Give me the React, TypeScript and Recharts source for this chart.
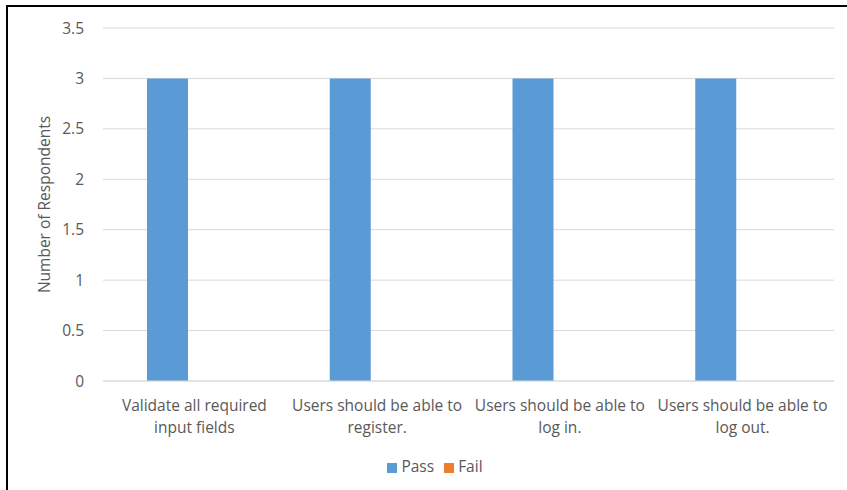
import { Bar, BarChart, CartesianGrid, Legend, XAxis, YAxis } from 'recharts';

const categories = [
  'Validate all required\ninput fields',
  'Users should be able to\nregister.',
  'Users should be able to\nlog in.',
  'Users should be able to\nlog out.',
];
const pass = [3, 3, 3, 3];
const fail = [0, 0, 0, 0];
const yTicks = [0, 0.5, 1, 1.5, 2, 2.5, 3, 3.5];
const seriesNames = ['Pass', 'Fail'];

const COLORS = { pass: '#5b9bd5', fail: '#ed7d31' };
const FONT = '"Open Sans", "Noto Sans", sans-serif';
const TEXT = '#595959';
const FS = 15.5;

const data = categories.map((name, i) => ({ name, pass: pass[i], fail: fail[i] }));

function WrappedTick(props: any) {
  const { x, y, payload } = props;
  const lines = String(payload.value).split('\n');
  return (
    <text x={x} y={y} textAnchor="middle" fill={TEXT} fontSize={FS} fontFamily={FONT}>
      {lines.map((l, i) => (
        <tspan key={i} x={x} dy={22}>{l}</tspan>
      ))}
    </text>
  );
}

export default function App() {
  return (
    <div style={{ position: 'absolute', left: 0, top: 0, width: 847, height: 490, background: '#fff' }}>
      <div style={{ position: 'absolute', left: 6, top: 5, right: 0, bottom: 0, borderLeft: '2px solid #000', borderTop: '2px solid #000' }} />
      <div style={{ position: 'absolute', left: 0, top: 0 }}>
        <BarChart width={847} height={490} data={data} margin={{ top: 28, right: 13, bottom: 0, left: 0 }} barSize={41} barGap={12}>
          <CartesianGrid stroke="#d9d9d9" vertical={false} />
          <XAxis
            dataKey="name"
            tick={<WrappedTick />}
            tickLine={false}
            axisLine={{ stroke: '#d9d9d9' }}
            height={109}
            interval={0}
          />
          <YAxis
            domain={[0, 3.5]}
            ticks={yTicks}
            tickLine={false}
            axisLine={false}
            width={103}
            tickMargin={13}
            tick={{ fill: TEXT, fontSize: FS, fontFamily: FONT }}
            label={{ value: 'Number of Respondents', angle: -90, position: 'insideLeft', offset: 44, style: { textAnchor: 'middle', fill: TEXT, fontSize: FS, fontFamily: FONT } }}
          />
          <Legend
            verticalAlign="middle"
            align="center"
            iconType="square"
            iconSize={10}
            itemSorter={(item: any) => seriesNames.indexOf(item.value)}
            wrapperStyle={{ top: 455, left: 23, fontFamily: FONT, fontSize: FS }}
            formatter={(v: string) => <span style={{ color: TEXT }}>{v}</span>}
          />
          <Bar dataKey="pass" name="Pass" fill={COLORS.pass} isAnimationActive={false} />
          <Bar dataKey="fail" name="Fail" fill={COLORS.fail} isAnimationActive={false} />
        </BarChart>
      </div>
    </div>
  );
}
